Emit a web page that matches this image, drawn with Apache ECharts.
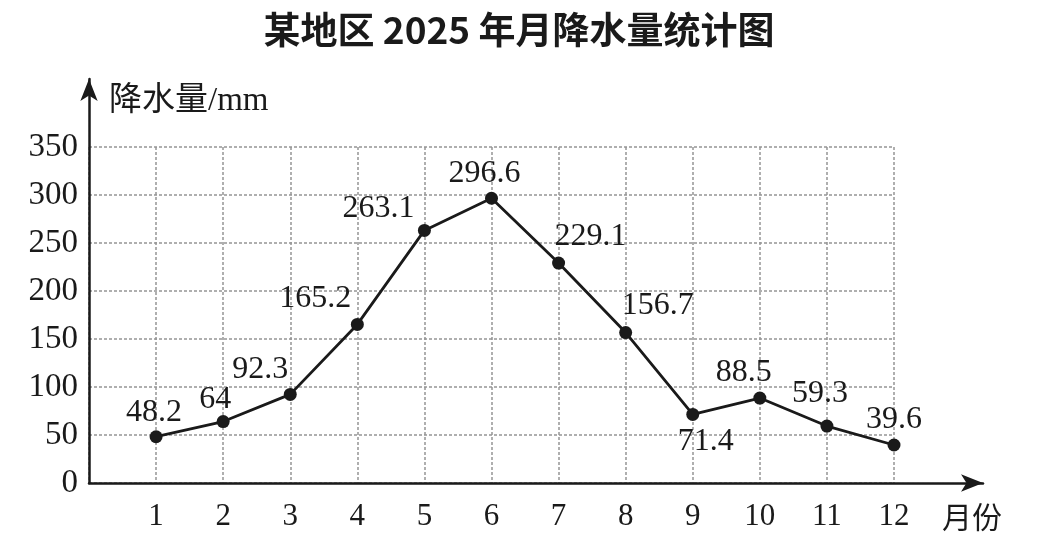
<!DOCTYPE html>
<html>
<head>
<meta charset="utf-8">
<script src="https://cdn.jsdelivr.net/npm/echarts@6/dist/echarts.min.js"></script>
<style>
  html, body { margin: 0; padding: 0; background: #fff; }
  #main { width: 1038px; height: 545px; }
</style>
</head>
<body>
<div id="main"></div>
<script>
// monthly rainfall (mm)
const months = [1, 2, 3, 4, 5, 6, 7, 8, 9, 10, 11, 12];
const rainfall = [48.2, 64, 92.3, 165.2, 263.1, 296.6, 229.1, 156.7, 71.4, 88.5, 59.3, 39.6];
const yTicks = [0, 50, 100, 150, 200, 250, 300, 350];

const serif = '"Liberation Serif", "Times New Roman", "Noto Sans CJK SC", serif';
const ink = '#1a1a1a';

// where each value label sits round its point
const labelPlace = [
    ['top', [-2, 3]], ['top', [-8, 6]], ['top', [-30, 3]], ['top', [-42, 2]],
    ['top', [-46, 6]], ['top', [-7, 3]], ['top', [32, 1]], ['top', [32, 1]],
    ['bottom', [13, 0]], ['top', [-16, 2]], ['top', [-7, -5]], ['top', [0, 2]]
];

const chart = echarts.init(document.getElementById('main'));

const option = {
    backgroundColor: '#fff',
    animation: false,
    title: {
        text: '某地区 2025 年月降水量统计图',
        left: 'center',
        top: 6,
        textStyle: {
            fontFamily: '"Noto Sans CJK SC", sans-serif',
            fontSize: 37,
            fontWeight: 'bold',
            color: ink
        }
    },
    grid: [
        // plot area
        {left: 89, right: 144, top: 147, bottom: 62},
        // longer axes carrying the arrows
        {left: 89, right: 55, top: 79, bottom: 62}
    ],
    xAxis: [{
        gridIndex: 0,
        type: 'value',
        min: 0,
        max: 12,
        interval: 1,
        name: '月份',
        nameLocation: 'end',
        nameGap: 48,
        nameTextStyle: {
            fontFamily: serif,
            fontSize: 30,
            color: ink,
            verticalAlign: 'top',
            padding: [22, 0, 0, 0]
        },
        axisLine: {show: false},
        axisTick: {show: false},
        axisLabel: {
            margin: 18,
            fontFamily: serif,
            fontSize: 31,
            color: ink,
            formatter: v => (v === 0 ? '' : String(v))
        },
        splitLine: {
            show: true,
            lineStyle: {color: '#959595', width: 1.5, type: [3, 2]}
        }
    }, {
        gridIndex: 1,
        type: 'value',
        min: 0,
        max: 1,
        axisLine: {
            show: true,
            symbol: ['none', 'arrow'],
            symbolSize: [13, 22],
            lineStyle: {color: ink, width: 2.5}
        },
        axisTick: {show: false},
        axisLabel: {show: false},
        splitLine: {show: false}
    }],
    yAxis: [{
        gridIndex: 0,
        type: 'value',
        min: 0,
        max: 350,
        interval: 50,
        name: '降水量/mm',
        nameLocation: 'end',
        nameGap: 29,
        nameTextStyle: {
            fontFamily: serif,
            fontSize: 33,
            color: ink,
            align: 'left',
            padding: [0, 0, 0, 20]
        },
        axisLine: {show: false},
        axisTick: {show: false},
        axisLabel: {
            margin: 11,
            fontFamily: serif,
            fontSize: 33,
            color: ink,
            formatter: v => (yTicks.indexOf(v) >= 0 ? String(v) : '')
        },
        splitLine: {
            show: true,
            lineStyle: {color: '#959595', width: 1.5, type: [3, 2]}
        }
    }, {
        gridIndex: 1,
        type: 'value',
        min: 0,
        max: 1,
        axisLine: {
            show: true,
            symbol: ['none', 'arrow'],
            symbolSize: [13, 22],
            lineStyle: {color: ink, width: 2.5}
        },
        axisTick: {show: false},
        axisLabel: {show: false},
        splitLine: {show: false}
    }],
    series: [{
        type: 'line',
        xAxisIndex: 0,
        yAxisIndex: 0,
        data: months.map((m, i) => ({
            value: [m, rainfall[i]],
            label: {position: labelPlace[i][0], offset: labelPlace[i][1]}
        })),
        symbol: 'circle',
        symbolSize: 13,
        itemStyle: {color: ink},
        lineStyle: {color: ink, width: 2.8},
        label: {
            show: true,
            fontFamily: serif,
            fontSize: 32,
            color: ink,
            formatter: p => String(p.value[1])
        }
    }]
};

chart.setOption(option);
</script>
</body>
</html>
